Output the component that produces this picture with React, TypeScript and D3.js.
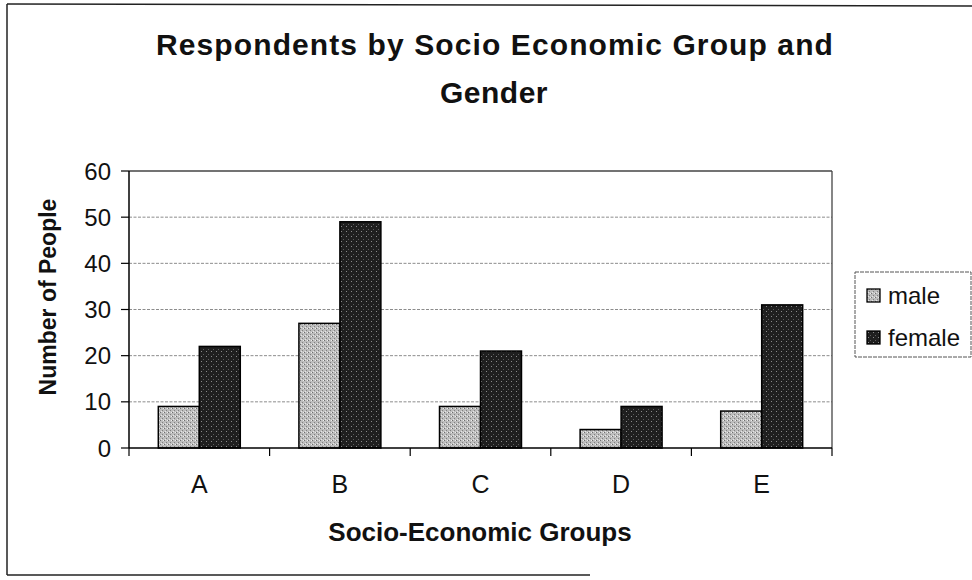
import React from "react";
import * as d3 from "d3";

// Chart data
const categories = ["A", "B", "C", "D", "E"];
const seriesNames = ["male", "female"];
const maleValues = [9, 27, 9, 4, 8];
const femaleValues = [22, 49, 21, 9, 31];
const yTicks = [0, 10, 20, 30, 40, 50, 60];

const title1 = "Respondents by Socio Economic Group and";
const title2 = "Gender";
const xTitle = "Socio-Economic Groups";
const yTitle = "Number of People";

const W = 972;
const H = 580;
const plot = { left: 129, right: 832, top: 171, bottom: 448 };
const FONT = "'Liberation Sans', Arial, Helvetica, sans-serif";

const fills: Record<string, string> = { male: "url(#maleFill)", female: "url(#femaleFill)" };

export default function App() {
  const x0 = d3
    .scaleBand<string>()
    .domain(categories)
    .range([plot.left, plot.right])
    .paddingInner(0.417)
    .paddingOuter(0.2085);
  const x1 = d3.scaleBand<string>().domain(seriesNames).range([0, x0.bandwidth()]).padding(0);
  const y = d3.scaleLinear().domain([0, 60]).range([plot.bottom, plot.top]);

  const rows = categories.map((c, i) => ({ c, male: maleValues[i], female: femaleValues[i] }));
  const step = x0.step();
  const catTicks = d3.range(categories.length + 1).map((i) => plot.left + i * step);

  return (
    <svg
      width={W}
      height={H}
      style={{ position: "absolute", left: 0, top: 0, background: "#fff" }}
      fontFamily={FONT}
    >
      <defs>
        <pattern id="maleFill" width="4" height="4" patternUnits="userSpaceOnUse">
          <rect width="4" height="4" fill="#bdbdbd" />
          <rect x="0" y="0" width="1" height="1" fill="#6f6f6f" />
          <rect x="2" y="2" width="1" height="1" fill="#808080" />
          <rect x="3" y="0" width="1" height="1" fill="#eeeeee" />
          <rect x="1" y="3" width="1" height="1" fill="#e6e6e6" />
        </pattern>
        <pattern id="femaleFill" width="5" height="5" patternUnits="userSpaceOnUse">
          <rect width="5" height="5" fill="#1f1f1f" />
          <rect x="1" y="1" width="1" height="1" fill="#8a8a8a" />
          <rect x="3" y="4" width="1" height="1" fill="#5c5c5c" />
        </pattern>
      </defs>

      {/* outer chart frame */}
      <line x1={7} y1={4} x2={W} y2={6} stroke="#222" strokeWidth={1.5} />
      <line x1={7} y1={4} x2={7} y2={575} stroke="#222" strokeWidth={1.5} />
      <line x1={7} y1={575} x2={590} y2={575} stroke="#222" strokeWidth={1.5} />

      {/* title */}
      <text
        x={495}
        y={55}
        textAnchor="middle"
        fontSize={30}
        fontWeight="bold"
        letterSpacing={1.1}
        fill="#111"
      >
        {title1}
      </text>
      <text x={494} y={103} textAnchor="middle" fontSize={30} fontWeight="bold" letterSpacing={0.5} fill="#111">
        {title2}
      </text>

      {/* gridlines */}
      {yTicks.slice(1, -1).map((t) => (
        <line
          key={"g" + t}
          x1={plot.left}
          x2={plot.right}
          y1={y(t)}
          y2={y(t)}
          stroke="#8c8c8c"
          strokeWidth={1}
          strokeDasharray="3,1.5"
        />
      ))}

      {/* plot area border: top and right */}
      <line x1={plot.left} x2={plot.right} y1={y(60)} y2={y(60)} stroke="#444" strokeWidth={1.3} />
      <line x1={plot.right} x2={plot.right} y1={y(60)} y2={plot.bottom} stroke="#444" strokeWidth={1.3} />

      {/* bars */}
      {rows.map((r) =>
        seriesNames.map((s) => {
          const v = (r as any)[s] as number;
          const bx = (x0(r.c) as number) + (x1(s) as number);
          return (
            <rect
              key={r.c + s}
              x={bx}
              y={y(v)}
              width={x1.bandwidth()}
              height={y(0) - y(v)}
              fill={fills[s]}
              stroke="#000"
              strokeWidth={1.5}
            />
          );
        })
      )}

      {/* y axis */}
      <line x1={plot.left} x2={plot.left} y1={y(60)} y2={plot.bottom} stroke="#000" strokeWidth={1.5} />
      {yTicks.map((t) => (
        <g key={"y" + t}>
          <line x1={plot.left - 8} x2={plot.left} y1={y(t)} y2={y(t)} stroke="#000" strokeWidth={1.2} />
          <text x={111} y={y(t)} textAnchor="end" dominantBaseline="central" fontSize={24} fill="#111">
            {t}
          </text>
        </g>
      ))}

      {/* x axis */}
      <line x1={plot.left} x2={plot.right} y1={plot.bottom} y2={plot.bottom} stroke="#000" strokeWidth={1.5} />
      {catTicks.map((tx, i) => (
        <line key={"xt" + i} x1={tx} x2={tx} y1={plot.bottom} y2={plot.bottom + 8} stroke="#000" strokeWidth={1.2} />
      ))}
      {categories.map((c) => (
        <text
          key={"xl" + c}
          x={(x0(c) as number) + x0.bandwidth() / 2}
          y={493}
          textAnchor="middle"
          fontSize={25}
          fill="#111"
        >
          {c}
        </text>
      ))}

      {/* axis titles */}
      <text x={480} y={541} textAnchor="middle" fontSize={26} fontWeight="bold" fill="#111">
        {xTitle}
      </text>
      <text
        transform="translate(56,297) rotate(-90)"
        textAnchor="middle"
        fontSize={23}
        fontWeight="bold"
        fill="#111"
      >
        {yTitle}
      </text>

      {/* legend */}
      <rect x={855} y={272} width={116} height={85} fill="#fff" stroke="#555" strokeWidth={1} strokeDasharray="4,1" />
      {seriesNames.map((s, i) => (
        <g key={"lg" + s} transform={`translate(867, ${289 + i * 42})`}>
          <rect x={0} y={0} width={13} height={13} fill={fills[s]} stroke="#000" strokeWidth={1.3} />
          <text x={21} y={6.5} dominantBaseline="central" fontSize={24} fill="#111">
            {s}
          </text>
        </g>
      ))}
    </svg>
  );
}
